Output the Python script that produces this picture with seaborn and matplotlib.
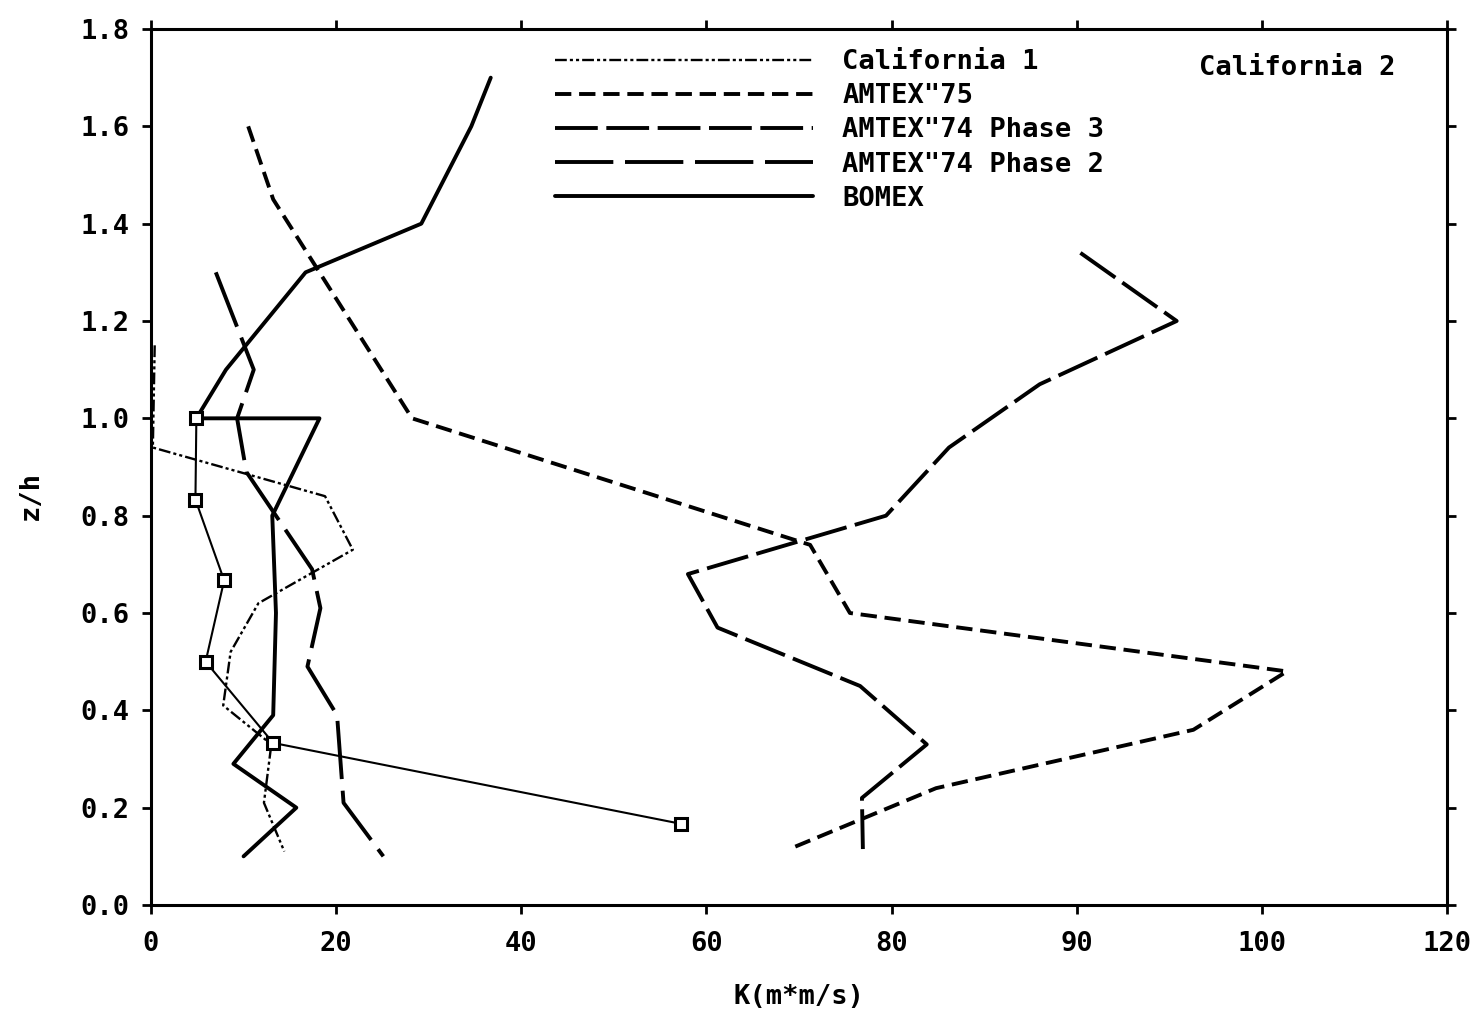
import numpy as np
import matplotlib
matplotlib.use("Agg")
import matplotlib.pyplot as plt
import seaborn as sns

# Eddy diffusivity profiles: K (m*m/s) against normalised height z/h
cal1_k = [0.4, 0.2, 18.8, 21.8, 11.6, 8.6, 7.8, 13.0, 12.2, 14.4]
cal1_z = [1.15, 0.94, 0.84, 0.73, 0.62, 0.52, 0.41, 0.33, 0.21, 0.11]

cal2_k = [4.9, 4.8, 7.9, 5.9, 13.2, 57.2]
cal2_z = [1.0, 0.833, 0.667, 0.5, 0.333, 0.167]

amtex75_k = [10.5, 13.2, 28.2, 71.2, 75.5, 102.7, 96.3, 82.4, 69.6]
amtex75_z = [1.6, 1.45, 1.0, 0.74, 0.6, 0.48, 0.36, 0.24, 0.12]

amtex74p3_k = [90.2, 95.4, 88.0, 83.1, 79.4, 58.0, 61.2, 76.6, 81.9, 76.8, 76.9]
amtex74p3_z = [1.34, 1.20, 1.07, 0.94, 0.80, 0.68, 0.57, 0.45, 0.33, 0.22, 0.115]

amtex74p2_k = [7.0, 11.1, 9.3, 10.3, 17.4, 18.3, 16.9, 20.1, 20.8, 25.1]
amtex74p2_z = [1.3, 1.1, 1.0, 0.89, 0.69, 0.61, 0.49, 0.39, 0.21, 0.10]

bomex_k = [36.7, 34.6, 29.2, 16.7, 8.1, 4.9, 18.2, 13.1, 13.5, 13.2, 8.9, 15.7, 10.0]
bomex_z = [1.7, 1.6, 1.4, 1.3, 1.1, 1.0, 1.0, 0.8, 0.6, 0.39, 0.29, 0.2, 0.1]

x_ticks = [0, 20, 40, 60, 80, 90, 100, 120]
y_ticks = [0.0, 0.2, 0.4, 0.6, 0.8, 1.0, 1.2, 1.4, 1.6, 1.8]

legend_labels = ['California 1', 'AMTEX"75', 'AMTEX"74 Phase 3',
                 'AMTEX"74 Phase 2', 'BOMEX']

sns.set_theme(style="ticks")
plt.rcParams['font.family'] = ['DejaVu Sans Mono', 'DejaVu Sans']
plt.rcParams.update({
    'font.weight': 'bold',
    'axes.labelweight': 'bold',
    'text.color': 'black',
    'axes.labelcolor': 'black',
    'xtick.color': 'black',
    'ytick.color': 'black',
    'axes.edgecolor': 'black',
})
FS = 19.5

# The K axis puts its labelled values at equal spacing (piecewise-linear scale)
_kv = np.array([-20] + x_ticks + [140], dtype=float)
_kp = np.arange(-1, len(x_ticks) + 1, dtype=float)


def k_forward(v):
    return np.interp(v, _kv, _kp)


def k_inverse(p):
    return np.interp(p, _kp, _kv)


fig = plt.figure(figsize=(14.79, 10.13), dpi=100)
ax = fig.add_axes([151 / 1479, 1 - 905 / 1013, 1296 / 1479, 876 / 1013])
ax.set_xscale('function', functions=(k_forward, k_inverse))

common = dict(solid_capstyle='round', solid_joinstyle='round')
series = [
    (cal1_k, cal1_z, dict(linewidth=1.7, linestyle=(0, (5, 1.3, 1.3, 1.3, 1.3, 1.3)))),
    (amtex75_k, amtex75_z, dict(linewidth=2.8, linestyle=(0, (4.2, 2.0)))),
    (amtex74p3_k, amtex74p3_z, dict(linewidth=2.8, linestyle=(0, (11, 2.2)))),
    (amtex74p2_k, amtex74p2_z, dict(linewidth=2.8, linestyle=(0, (15, 3)))),
    (bomex_k, bomex_z, dict(linewidth=2.8, linestyle='-')),
]

handles = []
for k, z, style in series:
    n = len(ax.lines)
    sns.lineplot(x=k, y=z, sort=False, estimator=None, ax=ax, color='black',
                 legend=False, **style, **common)
    handles.append(ax.lines[n])

# California 2 profile with square markers
sns.lineplot(x=cal2_k, y=cal2_z, sort=False, estimator=None, ax=ax,
             color='black', linewidth=1.5, marker='s', markersize=9,
             markeredgewidth=2.2, markerfacecolor='white',
             markeredgecolor='black', legend=False)

ax.set_xlim(0, 120)
ax.set_ylim(0, 1.8)
ax.set_xticks(x_ticks)
ax.set_xticklabels([str(t) for t in x_ticks])
ax.xaxis.set_minor_locator(matplotlib.ticker.NullLocator())
ax.set_yticks(y_ticks)
ax.set_yticklabels([f"{t:.1f}" for t in y_ticks])

for side in ['left', 'right', 'top', 'bottom']:
    ax.spines[side].set_visible(True)
    ax.spines[side].set_linewidth(2.2)
    ax.spines[side].set_color('black')

ax.tick_params(axis='both', which='major', direction='out', length=6.5,
               width=2.0, color='black', labelcolor='black', labelsize=FS,
               pad=9, top=True, right=True, labeltop=False, labelright=False)
ax.tick_params(axis='x', pad=12)

ax.set_xlabel('K(m*m/s)', fontsize=FS, fontweight='bold', color='black')
ax.set_ylabel('z/h', fontsize=FS, fontweight='bold', color='black')
ax.xaxis.set_label_coords(0.5, -0.09)
ax.yaxis.set_label_coords(-0.083, 0.468)

leg = ax.legend(handles, legend_labels, loc='upper left',
                bbox_to_anchor=(0.312, 0.977), frameon=False, borderpad=0,
                borderaxespad=0, handlelength=9.5, handletextpad=1.1,
                labelspacing=0.3, fontsize=FS)
for t in leg.get_texts():
    t.set_color('black')

ax.text(0.809, 0.955, 'California 2', transform=ax.transAxes,
        ha='left', va='center', fontsize=FS, color='black')

fig.savefig('out.png', dpi=100, facecolor='white')
